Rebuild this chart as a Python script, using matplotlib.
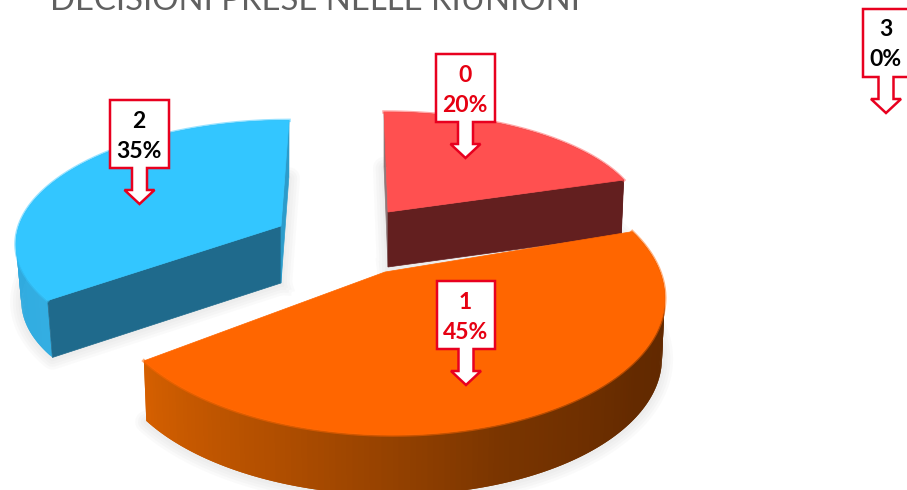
import numpy as np
import matplotlib
matplotlib.use("Agg")
import matplotlib.pyplot as plt
from matplotlib.colors import to_rgb
from matplotlib.patches import Polygon

categories = ["0", "1", "2", "3"]
percents = [20, 45, 35, 0]
label_colors = ["#e60012", "#e60012", "black", "black"]
title = "DECISIONI PRESE NELLE RIUNIONI"

# look of each slice, in pixels of the 907x490 picture
slices = {
    "0": dict(c=(388, 212), rx=253, ry=105, k=0.05, shear=0.04, depth=55, foot=0.99,
              top="#ff5050", cut0="#8f7a7a", cut1="#631f1f",
              wall=[(0, "#631f1f"), (360, "#631f1f")]),
    "1": dict(c=(385, 272), rx=275, ry=137, k=0.16, shear=0.05, depth=60, foot=0.99,
              top="#ff6600", cut0=None, cut1=None,
              wall=[(72, "#5e2700"), (125, "#642a00"), (160, "#7a3500"),
                    (200, "#b04e00"), (234, "#d66000")]),
    "2": dict(c=(281, 226), rx=262, ry=118, k=0.117, shear=-0.076, depth=57, foot=0.98,
              top="#33c6ff", cut0="#1f6a8c", cut1="#2c9ccb",
              wall=[(234, "#33aee2"), (300, "#2ea6da"), (360, "#2c9ccb")]),
}

# callout boxes: centre x, top, bottom, half width of box
callouts = {
    "0": (465.5, 54, 122, 29.5),
    "1": (466, 281, 349, 29),
    "2": (139.5, 100, 168, 29.5),
    "3": (886, 9, 77, 23),
}


def project(s, theta, r=1.0):
    t = np.radians(theta)
    x = np.sin(t) * r
    y = -np.cos(t) * r
    f = 1 / (1 - s["k"] * y)
    dy = s["ry"] * y * f
    return s["c"][0] + s["rx"] * x * f + s["shear"] * dy, s["c"][1] + dy


def shade(stops, theta):
    angles = [a for a, _ in stops]
    rgb = np.array([to_rgb(c) for _, c in stops])
    return [np.interp(theta, angles, rgb[:, i]) for i in range(3)]


fig = plt.figure(figsize=(9.07, 4.9), dpi=100)
ax = fig.add_axes([0, 0, 1, 1])
ax.set_xlim(0, 907)
ax.set_ylim(490, 0)
ax.axis("off")

ax.text(315, 10.5, title, fontsize=23.7, color="#606060", family="Lato",
        fontweight="normal", ha="center", va="baseline")

start = 0
for cat, pct in zip(categories, percents):
    end = start + pct * 3.6
    if pct > 0:
        s = slices[cat]
        cx, cy = s["c"]
        d = s["depth"]
        th = np.linspace(start, end, 160)
        rim_x, rim_y = project(s, th)
        foot_x = cx + (rim_x - cx) * s["foot"]
        foot_y = rim_y + d
        top_x = np.r_[cx, rim_x]
        top_y = np.r_[cy, rim_y]

        # soft shadow round the foot of the slice
        for lw in [16, 12, 8, 4]:
            ax.plot(np.r_[cx, foot_x, cx], np.r_[cy + d, foot_y, cy + d] + 1,
                    color="#777777", alpha=0.03, lw=lw, solid_joinstyle="round", zorder=1)

        # outer wall, strips overlap so the shading has no seams
        for i in range(len(th) - 1):
            j = min(i + 2, len(th) - 1)
            quad = [(rim_x[i], rim_y[i]), (rim_x[j], rim_y[j]),
                    (foot_x[j], foot_y[j]), (foot_x[i], foot_y[i])]
            ax.add_patch(Polygon(quad, fc=shade(s["wall"], th[i]), ec="none", zorder=2))

        # the two cut faces
        ends = [(s["cut0"], 0), (s["cut1"], -1)]
        for col, n in ends:
            if col:
                ax.add_patch(Polygon([(cx, cy), (rim_x[n], rim_y[n]), (foot_x[n], foot_y[n]), (cx, cy + d)],
                                     fc=col, ec=col, lw=0.5, zorder=3))

        ax.add_patch(Polygon(np.c_[top_x, top_y], fc=s["top"], ec=s["top"], lw=0.5, zorder=4))
        ax.plot(rim_x, rim_y, color=s["top"], lw=2.5, alpha=0.5, zorder=3.5)
    start = end

# callouts on top of the pie
for cat, pct, col in zip(categories, percents, label_colors):
    x, y0, y1, hw = callouts[cat]
    tip = y1 + 36
    neck = tip - 14
    outline = [(x - hw, y0), (x + hw, y0), (x + hw, y1), (x + 7.5, y1), (x + 7.5, neck),
               (x + 15, neck), (x, tip), (x - 15, neck), (x - 7.5, neck), (x - 7.5, y1),
               (x - hw, y1)]
    ax.add_patch(Polygon(outline, closed=True, fc="white", ec="#e8001f", lw=1.8, zorder=6,
                         joinstyle="miter"))
    ax.text(x - 0.5, y0 + 21, cat, fontsize=16.5, fontweight="bold", family="Lato",
            color=col, ha="center", va="center", zorder=7)
    ax.text(x - 0.5, y0 + 51, f"{pct}%", fontsize=16.5, fontweight="bold", family="Lato",
            color=col, ha="center", va="center", zorder=7)

fig.savefig("out.png", dpi=100)
